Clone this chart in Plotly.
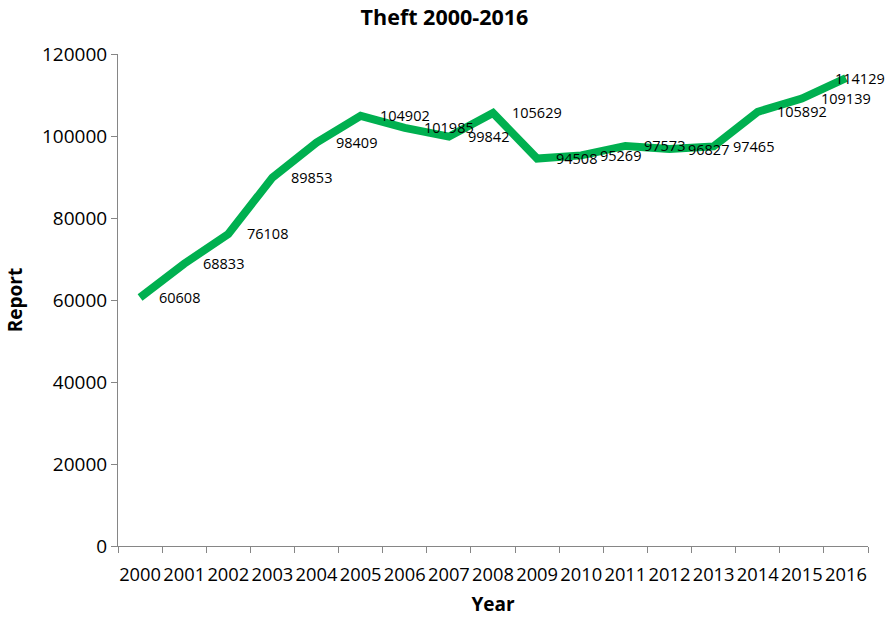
import plotly.graph_objects as go

years = [str(y) for y in range(2000, 2017)]
reports = [60608, 68833, 76108, 89853, 98409, 104902, 101985, 99842, 105629,
           94508, 95269, 97573, 96827, 97465, 105892, 109139, 114129]
label_shift = [17] * 16 + [-13]

FONT = "Open Sans"

fig = go.Figure()
fig.add_trace(go.Scatter(
    x=years, y=reports, mode="lines",
    line=dict(color="#00b050", width=8),
    hoverinfo="x+y",
))

for i, (y, s) in enumerate(zip(reports, label_shift)):
    fig.add_annotation(x=i, y=y, text=str(y), showarrow=False,
                       xref="x", yref="y",
                       xanchor="left", yanchor="middle", xshift=s,
                       font=dict(family=FONT, size=14.5, color="#000000"))

fig.update_layout(
    width=889, height=617,
    margin=dict(l=118, r=21, t=54, b=71),
    paper_bgcolor="white", plot_bgcolor="white",
    showlegend=False,
    title=dict(text="<b>Theft 2000-2016</b>", x=0.5, xanchor="center",
               y=0.972, yanchor="middle",
               font=dict(family=FONT, size=21.5, color="#000000")),
    font=dict(family=FONT, color="#000000"),
)
fig.update_xaxes(
    type="category", tickson="boundaries", ticks="outside", ticklen=6,
    tickcolor="#868686", showline=True, linecolor="#868686", linewidth=1,
    showgrid=False, range=[-0.5, 16.5], tickangle=0, automargin=False,
    ticklabelstandoff=12,
    tickfont=dict(family=FONT, size=18.3),
    title=dict(text="<b>Year</b>", font=dict(family=FONT, size=19), standoff=14),
)
fig.update_yaxes(
    range=[0, 120000], dtick=20000, ticks="outside", ticklen=6,
    tickformat="d", automargin=False,
    tickcolor="#868686", showline=True, linecolor="#868686", linewidth=1,
    showgrid=False, zeroline=False,
    tickfont=dict(family=FONT, size=19),
    title=dict(text="<b>Report</b>", font=dict(family=FONT, size=19), standoff=14),
)

fig.write_html("out.html")
